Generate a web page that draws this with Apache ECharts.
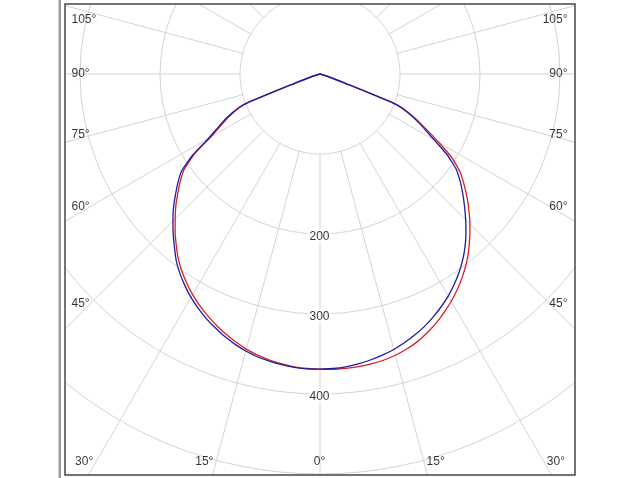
<!DOCTYPE html>
<html><head><meta charset="utf-8">
<script src="https://cdn.jsdelivr.net/npm/echarts@6/dist/echarts.min.js"></script>
<style>html,body{margin:0;padding:0;background:#fff}#c{width:640px;height:478px}</style>
</head><body><div id="c"></div>
<script>
// ---- data (angles from nadir in degrees, intensities in cd/klm) ----
const curveAngles = [0,2.5,5,7.5,10,12.5,15,17.5,20,22.5,25,27.5,30,32.5,35,37.5,40,42.5,45,47.5,50,52.5,55,57.5,60,62.5,65,67.5,68.5,69.5,70];
const blueLeft  = [369,369,368,366.5,364.5,362,358.5,354,349,343,337,330,322.5,314,305,295,283,271.5,260,248.5,236,224,211,189,161,143,128,110,95,40,0];
const blueRight = [369,368.5,367.5,365.5,363,360,356.5,352,347,341.5,335,328,320.5,312,303,293,282,270,257.5,245,233,221,208,189,165,146,129,110,95,40,0];
const redLeft   = [369,368.5,367.5,365.5,363,360,356,351,345.5,339.5,333,326,318.5,310,301,291,279.5,268,256,244.5,232,220,207,186,158,140,125,108,94,40,0];
const redRight  = [369,369.5,369.5,369,368,366.5,364,360.5,356,350,343.5,336,328,319.5,310,300,289,277,265,252.5,240,227,214,196,172,150,132,112,96,40,0];
const angleTicks = [0,15,30,45,60,75,90,105];
const radiusTicks = [200,300,400];

// ---- layout ----
const CX = 320, CY = 74, R_PX = 560, R_MAX = 700, K = R_PX / R_MAX;
const FL = 65, FT = 4, FR = 575, FB = 475;
const FONT = 'Liberation Sans';

function curveData(left, right) {
  const out = [];
  curveAngles.forEach((a, i) => out.push([left[i], a]));
  for (let i = curveAngles.length - 2; i >= 0; i--) out.push([right[i], 360 - curveAngles[i]]);
  return out;
}

// angle labels placed where each ray meets the inner label band of the frame
function angleLabelData() {
  const items = [];
  const sideX = 25, botY = 12.5, topY = 16.5;
  [1, -1].forEach(side => {
    angleTicks.forEach(t => {
      if (side === -1 && t === 0) return;
      const rad = t * Math.PI / 180;
      const s = Math.sin(rad), c = Math.cos(rad);
      const dSide = s > 1e-9 ? (CX - FL - sideX) / s : Infinity;
      const dBot = c > 1e-9 ? (FB - botY - CY) / c : Infinity;
      const d = Math.min(dSide, dBot);
      const y = CY + d * c;
      let label;
      if (d === dSide) {
        const oy = y < FT + topY ? FT + topY - y : 0;
        label = side === 1 ? {align: 'left', offset: [-18, oy]} : {align: 'right', offset: [18, oy]};
      } else {
        if (t === 0) label = {align: 'center', offset: [0, 0]};
        else label = side === 1 ? {align: 'right', offset: [-2, 0]} : {align: 'left', offset: [3, 0]};
      }
      items.push({name: t + '°', value: [d / K, side === 1 ? t : 360 - t], label: label});
    });
  });
  return items;
}

const chart = echarts.init(document.getElementById('c'), null, {renderer: 'canvas'});
chart.setOption({
  animation: false,
  backgroundColor: '#fff',
  polar: {center: [CX, CY], radius: R_PX},
  angleAxis: {
    type: 'value', min: 0, max: 360, interval: 15, startAngle: 270, clockwise: true,
    axisLine: {show: false}, axisTick: {show: false}, axisLabel: {show: false},
    splitLine: {show: true, lineStyle: {color: '#d3d3d3', width: 1}}
  },
  radiusAxis: {
    type: 'value', min: 0, max: R_MAX, interval: 100,
    axisLine: {show: false}, axisTick: {show: false}, axisLabel: {show: false},
    splitLine: {show: true, lineStyle: {color: '#d3d3d3', width: 1}}
  },
  graphic: [
    {type: 'circle', z: 1, silent: true, shape: {cx: CX, cy: CY, r: 79.3}, style: {fill: '#fff'}},
    {type: 'rect', z: 100, silent: true, shape: {x: 0, y: 0, width: 640, height: FT}, style: {fill: '#fff'}},
    {type: 'rect', z: 100, silent: true, shape: {x: 0, y: 0, width: FL, height: 478}, style: {fill: '#fff'}},
    {type: 'rect', z: 100, silent: true, shape: {x: FR, y: 0, width: 640 - FR, height: 478}, style: {fill: '#fff'}},
    {type: 'rect', z: 100, silent: true, shape: {x: 0, y: FB, width: 640, height: 478 - FB}, style: {fill: '#fff'}},
    {type: 'rect', z: 101, silent: true, shape: {x: FL, y: FT, width: FR - FL, height: FB - FT}, style: {fill: null, stroke: '#454545', lineWidth: 1.5}},
    {type: 'rect', z: 101, silent: true, shape: {x: 58.5, y: 0, width: 2.5, height: 478}, style: {fill: '#9a9a9a'}}
  ],
  series: [
    {type: 'line', coordinateSystem: 'polar', data: curveData(redLeft, redRight), showSymbol: false, symbol: 'none',
     smooth: 0.1, lineStyle: {color: '#d82020', width: 1.3}, z: 3},
    {type: 'line', coordinateSystem: 'polar', data: curveData(blueLeft, blueRight), showSymbol: false, symbol: 'none',
     smooth: 0.1, lineStyle: {color: '#1c1ca6', width: 1.3}, z: 4},
    {type: 'scatter', coordinateSystem: 'polar', symbolSize: 1, itemStyle: {color: 'rgba(0,0,0,0)'}, z: 5,
     data: radiusTicks.map(v => ({name: String(v), value: [v, 0]})),
     label: {show: true, formatter: '{b}', position: [0, 0], align: 'center', verticalAlign: 'middle', offset: [0, 3],
       backgroundColor: '#fff', padding: [1, 2], color: '#000', fontFamily: FONT, fontSize: 12}},
    {type: 'scatter', coordinateSystem: 'polar', symbolSize: 1, itemStyle: {color: 'rgba(0,0,0,0)'}, z: 5,
     data: angleLabelData(),
     label: {show: true, formatter: '{b}', position: [0, 0], verticalAlign: 'middle', color: '#000', fontFamily: FONT, fontSize: 12}}
  ]
});
</script></body></html>
